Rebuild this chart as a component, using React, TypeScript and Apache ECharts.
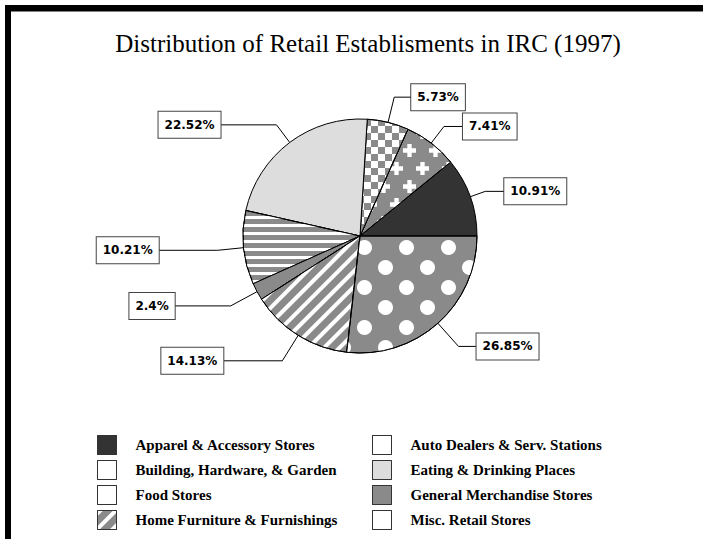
import React, { useEffect, useRef } from 'react';
import * as echarts from 'echarts';

const categories = [
  'Apparel & Accessory Stores',
  'Auto Dealers & Serv. Stations',
  'Building, Hardware, & Garden',
  'Eating & Drinking Places',
  'Food Stores',
  'General Merchandise Stores',
  'Home Furniture & Furnishings',
  'Misc. Retail Stores',
];
const shares = [10.91, 7.41, 5.73, 22.52, 10.21, 2.4, 14.13, 26.85];

const legendColumnA = [0, 2, 4, 6];
const legendColumnB = [1, 3, 5, 7];

// leader line geometry (first segment, horizontal segment)
const leaderFirst = [16, 21, 26, 22, 26, 30, 30, 31];
const leaderSecond = [19, 19, 17, 56, 59, 56, 59, 18];

const GRAY = '#8a8a8a';
const sliceStyles: any[] = [
  { color: '#333333' },
  {
    color: GRAY,
    decal: {
      symbol: 'path://M3,0H6V3H9V6H6V9H3V6H0V3H3Z',
      symbolSize: 1,
      color: '#ffffff',
      dashArrayX: [[13, 13], [0, 13, 13, 0]],
      dashArrayY: [13, 5],
    },
  },
  {
    color: '#ffffff',
    decal: {
      symbol: 'rect',
      symbolSize: 1,
      symbolKeepAspect: false,
      color: GRAY,
      dashArrayX: [[7, 7], [0, 7, 7, 0]],
      dashArrayY: [7, 0],
    },
  },
  { color: '#dddddd' },
  {
    color: GRAY,
    decal: {
      symbol: 'rect',
      symbolSize: 1,
      symbolKeepAspect: false,
      color: '#ffffff',
      dashArrayX: [1, 0],
      dashArrayY: [3, 5],
    },
  },
  { color: GRAY },
  {
    color: GRAY,
    decal: {
      symbol: 'rect',
      symbolSize: 1,
      symbolKeepAspect: false,
      color: '#ffffff',
      dashArrayX: [1, 0],
      dashArrayY: [4, 7],
      rotation: -Math.PI / 4,
    },
  },
  {
    color: GRAY,
    decal: {
      symbol: 'circle',
      symbolSize: 1,
      color: '#ffffff',
      dashArrayX: [[15, 27], [0, 21, 15, 6]],
      dashArrayY: [15, 5],
    },
  },
];

const legendIconColors = ['#333333', '#ffffff', '#ffffff', '#dddddd', '#ffffff', GRAY, GRAY, '#ffffff'];
const legendKeepDecal = [false, false, false, false, false, false, true, false];

const legendText = {
  fontFamily: 'Liberation Serif',
  fontWeight: 'bold',
  fontSize: 15,
  lineHeight: 17,
  color: '#000',
  padding: [0, 0, 0, 14],
};

function legendItems(idx: number[]) {
  return idx.map((i) => ({
    name: categories[i],
    itemStyle: legendKeepDecal[i]
      ? { color: legendIconColors[i] }
      : { color: legendIconColors[i], decal: { color: 'rgba(0,0,0,0)', symbol: 'rect' } },
  }));
}

export default function App() {
  const ref = useRef<HTMLDivElement>(null);
  useEffect(() => {
    if (!ref.current) return;
    const chart = echarts.init(ref.current, null, { renderer: 'svg' });
    const legendBase = {
      orient: 'vertical',
      top: 435,
      padding: 0,
      itemWidth: 19,
      itemHeight: 19,
      itemGap: 5,
      icon: 'rect',
      selectedMode: false,
      textStyle: legendText,
      itemStyle: { borderColor: '#333', borderWidth: 1 },
    };
    const option: any = {
      animation: false,
      backgroundColor: '#ffffff',
      title: {
        text: 'Distribution of Retail Establisments in IRC (1997)',
        left: 368,
        top: 31,
        padding: 0,
        textAlign: 'center',
        textStyle: { fontFamily: 'Liberation Serif', fontSize: 25, fontWeight: 'normal', color: '#000' },
      },
      graphic: [
        { type: 'rect', shape: { x: 5, y: 5, width: 698, height: 6.5 }, style: { fill: '#000' }, silent: true },
        { type: 'rect', shape: { x: 5, y: 5, width: 6, height: 534 }, style: { fill: '#000' }, silent: true },
      ],
      legend: [
        { ...legendBase, left: 97, data: legendItems(legendColumnA) },
        { ...legendBase, left: 372, data: legendItems(legendColumnB) },
      ],
      series: [
        {
          type: 'pie',
          center: [360, 236],
          radius: 117,
          startAngle: 0,
          clockwise: false,
          avoidLabelOverlap: false,
          emphasis: { disabled: true },
          itemStyle: { borderColor: '#000', borderWidth: 1 },
          label: {
            show: true,
            position: 'outside',
            formatter: '{c}%',
            fontFamily: 'DejaVu Sans',
            fontWeight: 'bold',
            fontSize: 12,
            lineHeight: 14,
            color: '#000',
            backgroundColor: '#fff',
            borderColor: '#444',
            borderWidth: 1,
            padding: [6, 6, 6, 6],
            distanceToLabelLine: 0,
          },
          labelLine: { show: true, lineStyle: { color: '#000', width: 1 } },
          data: categories.map((name, i) => ({
            name,
            value: shares[i],
            itemStyle: sliceStyles[i],
            labelLine: { length: leaderFirst[i], length2: leaderSecond[i] },
          })),
        },
      ],
    };
    chart.setOption(option);
    return () => chart.dispose();
  }, []);
  return (
    <div
      ref={ref}
      style={{ position: 'absolute', left: 0, top: 0, width: 703, height: 539, background: '#fff' }}
    />
  );
}
